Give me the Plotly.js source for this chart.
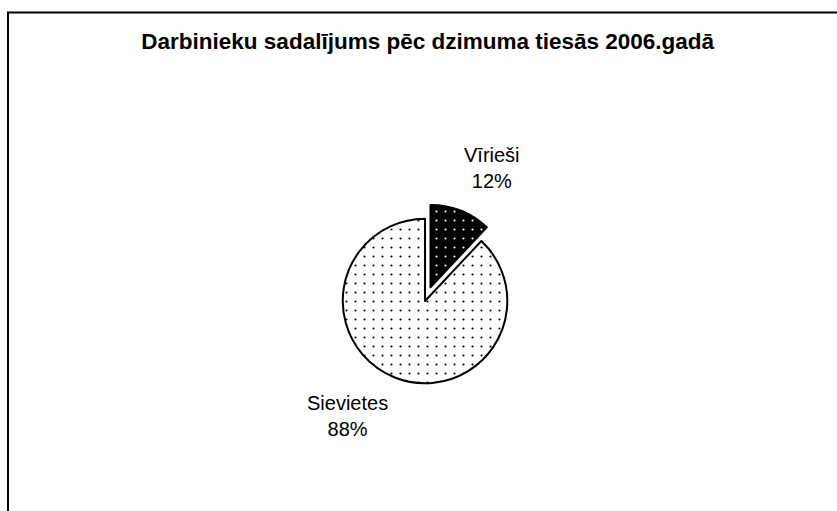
<!DOCTYPE html>
<html>
<head>
<meta charset="utf-8">
<script src="https://cdn.plot.ly/plotly-3.0.1.min.js"></script>
<style>html,body{margin:0;padding:0;background:#fff;}#chart{width:837px;height:511px;}</style>
</head>
<body>
<div id="chart"></div>
<script>
const labels = ["Vīrieši", "Sievietes"];
const values = [12, 88];
const titleText = "Darbinieku sadalījums pēc dzimuma tiesās 2006.gadā";

const total = values.reduce((a, b) => a + b, 0);
const labelTexts = labels.map((l, i) => l + "<br>" + Math.round(values[i] / total * 100) + "%");

const font = "Liberation Sans, Arial, sans-serif";

const trace = {
  type: "pie",
  labels: labels,
  values: values,
  sort: false,
  direction: "clockwise",
  rotation: 0,
  pull: [0.18, 0],
  textinfo: "none",
  hoverinfo: "none",
  marker: {
    colors: ["#000000", "#ffffff"],
    line: {color: "#000000", width: 2},
    pattern: {
      shape: ".",
      bgcolor: ["#000000", "#ffffff"],
      fgcolor: ["#ffffff", "#000000"],
      size: 9,
      solidity: 0.045,
      fillmode: "replace"
    }
  },
  domain: {x: [0.3078, 0.7078], y: [0.221, 0.601]},
  automargin: false
};

// label anchor positions (pixels in the 837x511 page)
const labelPos = [[492, 168], [347, 415.5]];

const annotations = labelTexts.map((t, i) => ({
  text: t,
  xref: "paper", yref: "paper",
  x: labelPos[i][0] / 837, y: 1 - labelPos[i][1] / 511,
  xanchor: "center", yanchor: "middle",
  showarrow: false,
  align: "center",
  font: {family: font, size: 20, color: "#000"}
}));

const layout = {
  width: 837,
  height: 511,
  margin: {l: 0, r: 0, t: 0, b: 0},
  paper_bgcolor: "#ffffff",
  showlegend: false,
  font: {family: font, color: "#000"},
  title: {
    text: "<b>" + titleText + "</b>",
    font: {family: font, size: 22.5, color: "#000"},
    x: 0.511, xanchor: "center", xref: "paper",
    y: 1 - 33 / 511, yanchor: "top", yref: "container"
  },
  annotations: annotations,
  shapes: [
    {type: "line", xref: "paper", yref: "paper", x0: 8/837, x1: 8/837, y0: -0.05, y1: 1 - 12.5/511, line: {color: "#000", width: 2}},
    {type: "line", xref: "paper", yref: "paper", x0: 7/837, x1: 1.05, y0: 1 - 12.5/511, y1: 1 - 12.5/511, line: {color: "#000", width: 2}}
  ]
};

Plotly.newPlot("chart", [trace], layout, {staticPlot: true, displayModeBar: false});
</script>
</body>
</html>
